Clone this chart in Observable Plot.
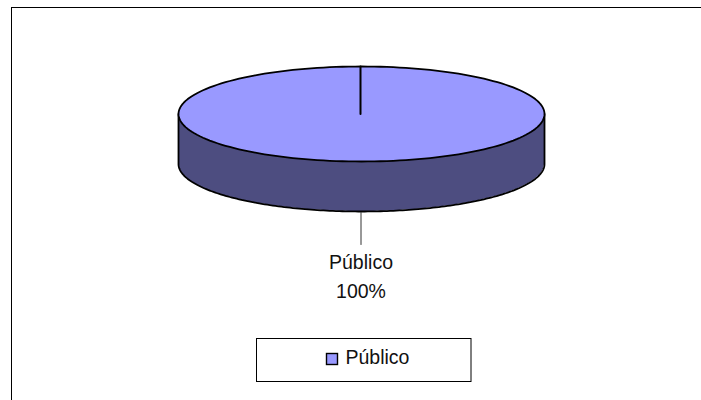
<!DOCTYPE html>
<html>
<head>
<meta charset="utf-8">
<script src="https://cdn.jsdelivr.net/npm/d3@7"></script>
<script src="https://cdn.jsdelivr.net/npm/@observablehq/plot@0.6"></script>
<style>html,body{margin:0;padding:0;background:#fff;overflow:hidden}svg{display:block}</style>
</head>
<body>
<div id="chart"></div>
<script>
const categories = ["Público"];
const values = [100];
const colors = ["#9999ff"];
const sideColors = ["#4d4d80"];

const W = 701, H = 400;
const cx = 361, cy = 113.5, rx = 183, ry = 47.5, depth = 50;
const font = "Liberation Sans, Arial, sans-serif";

const arcs = d3.pie().sort(null)(values);
const total = d3.sum(values);
const steps = 180;
const rim = (a) => ({x: cx + rx * Math.sin(a), y: cy - ry * Math.cos(a)});

// Outline of the top face, swept through the slice's own angle
const arc = arcs[0];
const topFace = d3.range(steps + 1).map(i => rim(arc.startAngle + (arc.endAngle - arc.startAngle) * i / steps));
// Visible front wall: the right-hand to left-hand extreme of the rim
const front = d3.range(steps + 1).map(i => {
  const p = rim(Math.PI / 2 + Math.PI * i / steps);
  return {x: p.x, y1: p.y, y2: p.y + depth};
});
const wallOutline = [
  {x: cx + rx, y: cy},
  ...front.map(d => ({x: d.x, y: d.y2})),
  {x: cx - rx, y: cy}
];
const spoke = [{x: cx - 1, y: cy - ry}, {x: cx - 1, y: cy}];
const leader = [{x: cx - 0.5, y: cy + ry + depth + 1}, {x: cx - 0.5, y: cy + ry + depth + 33}];

const pct = d3.format(".0%")(values[0] / total);

const chart = Plot.plot({
  width: W, height: H,
  margin: 0,
  x: {type: "identity", axis: null},
  y: {type: "identity", axis: null},
  style: {background: "#fff"},
  marks: [
    // chart area border (runs off the right and bottom of the picture)
    Plot.rect([{x1: 11.5, x2: W + 10, y1: 7.5, y2: H + 10}], {x1: "x1", x2: "x2", y1: "y1", y2: "y2", fill: "#fff", stroke: "#000", strokeWidth: 1}),
    // wall
    Plot.areaY(front, {x: "x", y1: "y1", y2: "y2", fill: sideColors[0]}),
    Plot.line(wallOutline, {x: "x", y: "y", stroke: "#000", strokeWidth: 1.8}),
    // top face
    Plot.line(topFace, {x: "x", y: "y", fill: colors[0], stroke: "#000", strokeWidth: 1.8}),
    Plot.line(spoke, {x: "x", y: "y", stroke: "#000", strokeWidth: 2}),
    // leader and data label
    Plot.line(leader, {x: "x", y: "y", stroke: "#333", strokeWidth: 1}),
    Plot.text([categories[0]], {x: 360.5, y: 262, text: d => d, fontSize: 19.5, fontFamily: font, fill: "#111"}),
    Plot.text([pct], {x: 360.5, y: 291, text: d => d, fontSize: 19.5, fontFamily: font, fill: "#111"}),
    // legend
    Plot.rect([{x1: 256.5, x2: 471, y1: 338.5, y2: 381.5}], {x1: "x1", x2: "x2", y1: "y1", y2: "y2", fill: "#fff", stroke: "#000", strokeWidth: 1}),
    Plot.rect([{x1: 326.5, x2: 337.5, y1: 353.5, y2: 364.5}], {x1: "x1", x2: "x2", y1: "y1", y2: "y2", fill: colors[0], stroke: "#000", strokeWidth: 1.4}),
    Plot.text([categories[0]], {x: 345, y: 357, text: d => d, textAnchor: "start", fontSize: 19.5, fontFamily: font, fill: "#111"})
  ]
});
document.getElementById("chart").append(chart);
</script>
</body>
</html>
